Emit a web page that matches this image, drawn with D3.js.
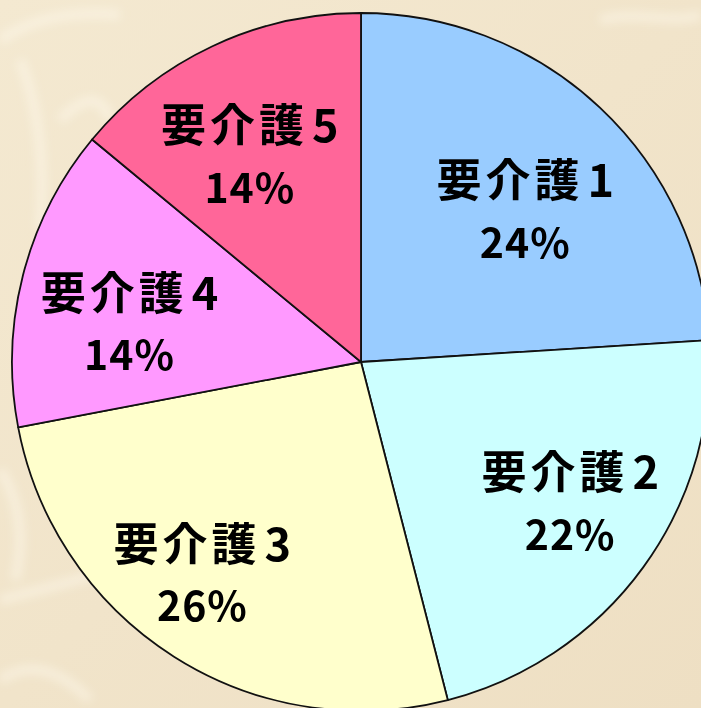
<!DOCTYPE html>
<html>
<head>
<meta charset="utf-8">
<script src="https://cdn.jsdelivr.net/npm/d3@7"></script>
<style>
  html, body { margin: 0; padding: 0; background: #f1e4c9; }
  svg { display: block; }
</style>
</head>
<body>
<div class="container"></div>
<script>
// data
const categories = ['要介護1', '要介護2', '要介護3', '要介護4', '要介護5'];
const shares = [24, 22, 26, 14, 14];
const colors = ['#99ccff', '#ccffff', '#ffffcc', '#ff99ff', '#ff6699'];

const width = 701;
const height = 708;
const cx = 361, cy = 362;
const radius = 349;

const svg = d3.select('.container')
    .append('svg')
    .attr('width', width)
    .attr('height', height);

// washi paper background
const defs = svg.append('defs');
defs.append('filter')
    .attr('id', 'soft')
    .attr('x', '-20%').attr('y', '-20%').attr('width', '140%').attr('height', '140%')
    .append('feGaussianBlur')
    .attr('stdDeviation', 5);

const bg = defs.append('linearGradient')
    .attr('id', 'paper')
    .attr('x1', 0).attr('y1', 0).attr('x2', 1).attr('y2', 1);
bg.append('stop').attr('offset', 0).attr('stop-color', '#f4e9d1');
bg.append('stop').attr('offset', 1).attr('stop-color', '#eedfc3');

svg.append('rect')
    .attr('width', width)
    .attr('height', height)
    .attr('fill', 'url(#paper)');

const streaks = [
    'M0,40 C30,20 70,10 120,15',
    'M20,60 C40,110 45,170 40,230',
    'M0,600 C40,590 80,580 110,570',
    'M0,470 C20,500 25,540 15,580',
    'M600,20 C640,10 670,25 701,15',
    'M0,680 C30,660 60,670 90,700',
    'M60,120 C80,100 100,90 110,120'
];
svg.append('g')
    .attr('filter', 'url(#soft)')
    .selectAll('path')
    .data(streaks)
    .join('path')
    .attr('d', d => d)
    .attr('fill', 'none')
    .attr('stroke', '#fffaf0')
    .attr('stroke-width', 10)
    .attr('opacity', 0.45);

// pie
const pie = d3.pie()
    .value(d => d)
    .sort(null);

const arc = d3.arc()
    .innerRadius(0)
    .outerRadius(radius);

const labelArc = d3.arc()
    .innerRadius(240)
    .outerRadius(240);

const arcs = pie(shares);

const g = svg.append('g')
    .attr('transform', `translate(${cx}, ${cy})`);

g.selectAll('path.slice')
    .data(arcs)
    .join('path')
    .attr('class', 'slice')
    .attr('d', arc)
    .attr('fill', (d, i) => colors[i])
    .attr('stroke', '#111')
    .attr('stroke-width', 1.8)
    .attr('stroke-linejoin', 'round');

// nudges from the centroid, like the hand-moved excel labels
const nudge = [[-1, 25], [14, 1], [-31, 11], [0, 22], [-10, 12]];

const labels = g.selectAll('g.label')
    .data(arcs)
    .join('g')
    .attr('class', 'label')
    .attr('transform', (d, i) => {
        const c = labelArc.centroid(d);
        return `translate(${c[0] + nudge[i][0]}, ${c[1] + nudge[i][1]})`;
    })
    .style('font-family', '"Noto Sans CJK JP", "Noto Sans", sans-serif')
    .style('font-weight', 700)
    .attr('fill', '#000')
    .attr('text-anchor', 'middle');

// name line: kanji + digit, the digit sits a little apart
const name = labels.append('text')
    .attr('y', -31)
    .attr('dy', '0.36em')
    .attr('x', 3)
    .style('font-size', '45px')
    .style('letter-spacing', '4px');
name.append('tspan').text((d, i) => categories[i].slice(0, 3));
name.append('tspan').attr('dx', 4).text((d, i) => categories[i].slice(3));

labels.append('text')
    .attr('y', 31)
    .attr('dy', '0.36em')
    .attr('x', 1)
    .style('font-size', '41px')
    .style('letter-spacing', '1px')
    .text(d => d.data + '%');
</script>
</body>
</html>
